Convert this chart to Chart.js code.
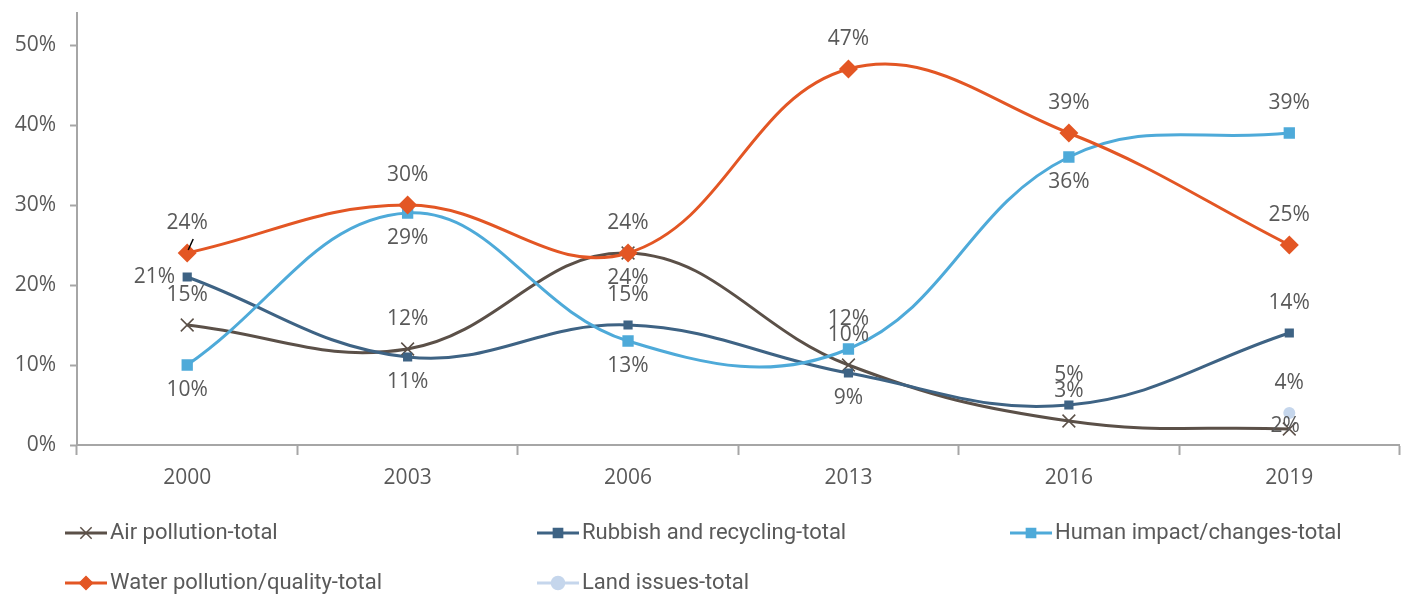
<!DOCTYPE html>
<html>
<head>
<meta charset="utf-8">
<script src="https://cdn.jsdelivr.net/npm/chart.js@4/dist/chart.umd.min.js"></script>
<style>
  html, body { margin: 0; padding: 0; background: #fff; }
  #wrap { width: 1410px; height: 594px; position: relative; }
</style>
</head>
<body>
<div id="wrap"><canvas id="trendChart"></canvas></div>
<script>
  // Survey years and share of mentions per topic (%)
  const years = ['2000', '2003', '2006', '2013', '2016', '2019'];
  const airPollution = [15, 12, 24, 10, 3, 2];
  const rubbishRecycling = [21, 11, 15, 9, 5, 14];
  const humanImpact = [10, 29, 13, 12, 36, 39];
  const waterPollution = [24, 30, 24, 47, 39, 25];
  const landIssues = [null, null, null, null, null, 4];
  const yTicks = [0, 10, 20, 30, 40, 50];

  const fontFamily = '"Open Sans", "Noto Sans", sans-serif';
  const labelFont = '21px ' + fontFamily;
  const legendFont = '22px Roboto, sans-serif';
  const textColor = '#595959';

  const datasets = [
    {
      label: 'Air pollution-total',
      data: airPollution,
      borderColor: '#5b5048',
      backgroundColor: '#5b5048',
      pointStyle: 'crossRot',
      pointRadius: 9,
      pointBorderWidth: 1.5,
      labelPos: ['above', 'above', 'below', 'above', 'above', 'on'],
      order: 5,
    },
    {
      label: 'Rubbish and recycling-total',
      data: rubbishRecycling,
      borderColor: '#3e6384',
      backgroundColor: '#3e6384',
      pointStyle: 'rect',
      pointRadius: 6.5,
      pointBorderWidth: 0,
      labelPos: ['left', 'below', 'above', 'below', 'above', 'above'],
      order: 4,
    },
    {
      label: 'Human impact/changes-total',
      data: humanImpact,
      borderColor: '#4eaad9',
      backgroundColor: '#4eaad9',
      pointStyle: 'rect',
      pointRadius: 8,
      pointBorderWidth: 0,
      labelPos: ['below', 'below', 'below', 'above', 'below', 'above'],
      order: 3,
    },
    {
      label: 'Water pollution/quality-total',
      data: waterPollution,
      borderColor: '#e35624',
      backgroundColor: '#e35624',
      pointStyle: 'rectRot',
      pointRadius: 9.5,
      pointBorderWidth: 0,
      labelPos: ['above', 'above', 'above', 'above', 'above', 'above'],
      order: 2,
    },
    {
      label: 'Land issues-total',
      data: landIssues,
      borderColor: '#c5d6ec',
      backgroundColor: '#c5d6ec',
      pointStyle: 'circle',
      pointRadius: 6,
      pointBorderWidth: 0,
      labelPos: ['above', 'above', 'above', 'above', 'above', 'above'],
      order: 1,
    },
  ];

  // Value labels next to each point
  const valueLabels = {
    id: 'valueLabels',
    afterDatasetsDraw(chart) {
      const ctx = chart.ctx;
      ctx.save();
      ctx.font = labelFont;
      ctx.fillStyle = textColor;
      ctx.textBaseline = 'middle';
      chart.data.datasets.forEach((ds, di) => {
        const meta = chart.getDatasetMeta(di);
        meta.data.forEach((pt, i) => {
          const v = ds.data[i];
          if (v === null || v === undefined) return;
          const pos = ds.labelPos[i];
          let x = pt.x, y = pt.y;
          ctx.textAlign = 'center';
          if (pos === 'above') y -= 30;
          else if (pos === 'below') y += 25;
          else if (pos === 'on') { x -= 4; y -= 3; }
          else if (pos === 'left') { x -= 12; ctx.textAlign = 'right'; }
          ctx.fillText(v + '%', x, y);
          // small leader line for the first water label
          if (di === 3 && i === 0) {
            ctx.strokeStyle = '#000';
            ctx.lineWidth = 1.5;
            ctx.beginPath();
            ctx.moveTo(pt.x + 6, pt.y - 14);
            ctx.lineTo(pt.x + 1, pt.y - 3);
            ctx.stroke();
          }
        });
      });
      ctx.restore();
    },
  };

  // Legend laid out in three columns under the chart
  const gridLegend = {
    id: 'gridLegend',
    afterDraw(chart) {
      const ctx = chart.ctx;
      const cols = [65, 537, 1010];
      const rows = [533, 583];
      ctx.save();
      chart.data.datasets.forEach((ds, i) => {
        const x = cols[i % 3];
        const y = rows[Math.floor(i / 3)];
        ctx.strokeStyle = ds.borderColor;
        ctx.lineWidth = 3;
        ctx.beginPath();
        ctx.moveTo(x, y);
        ctx.lineTo(x + 42, y);
        ctx.stroke();
        ctx.fillStyle = ds.backgroundColor;
        ctx.lineWidth = 1.5;
        Chart.helpers.drawPoint(ctx, {
          pointStyle: ds.pointStyle,
          radius: ds.pointStyle === 'crossRot' ? 8 : 6.5,
          rotation: 0,
          borderWidth: 1.5,
        }, x + 21, y);
        ctx.fillStyle = textColor;
        ctx.font = legendFont;
        ctx.textAlign = 'left';
        ctx.textBaseline = 'middle';
        ctx.fillText(ds.label, x + 45, y);
      });
      ctx.restore();
    },
  };

  function buildChart() {
    const ctx = document.getElementById('trendChart').getContext('2d');
    return new Chart(ctx, {
      type: 'line',
      data: {
        labels: years,
        datasets: datasets.map(d => Object.assign({
          borderWidth: 3,
          tension: 0.4,
          fill: false,
          spanGaps: false,
          pointHoverRadius: d.pointRadius,
        }, d)),
      },
      options: {
        responsive: true,
        maintainAspectRatio: false,
        animation: false,
        layout: { padding: { top: 13, right: 10, left: 0, bottom: 0 } },
        plugins: {
          legend: { display: false },
          tooltip: { enabled: false },
        },
        scales: {
          x: {
            offset: true,
            grid: {
              offset: true,
              drawOnChartArea: false,
              tickLength: 10,
              tickColor: '#a6a6a6',
              tickWidth: 2,
            },
            border: { color: '#a6a6a6', width: 2 },
            ticks: {
              color: textColor,
              font: { family: fontFamily, size: 21 },
              padding: 10,
              maxRotation: 0,
            },
            afterFit(scale) { scale.height = 149; },
          },
          y: {
            min: 0,
            max: 54,
            grid: {
              drawOnChartArea: false,
              tickLength: 7,
              tickColor: '#a6a6a6',
              tickWidth: 2,
            },
            border: { color: '#a6a6a6', width: 2 },
            ticks: {
              stepSize: 10,
              color: textColor,
              font: { family: fontFamily, size: 21 },
              padding: 14,
              callback: v => v + '%',
            },
            afterBuildTicks(scale) {
              scale.ticks = yTicks.map(v => ({ value: v }));
            },
            afterFit(scale) {
              scale.width = 77;
              scale.paddingTop = 0;
              scale.paddingBottom = 0;
            },
          },
        },
      },
      plugins: [valueLabels, gridLegend],
    });
  }

  Promise.all([
    document.fonts.load(labelFont),
    document.fonts.load(legendFont),
  ]).then(buildChart, buildChart);
</script>
</body>
</html>
